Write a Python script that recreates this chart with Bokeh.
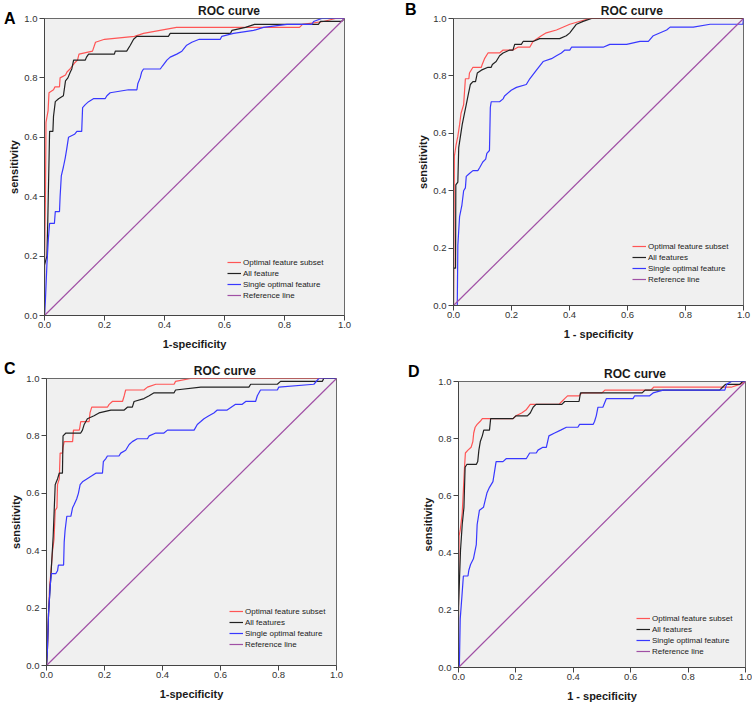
from bokeh.plotting import figure
from bokeh.models import Range1d, FixedTicker, Legend, LegendItem, LinearAxis
from bokeh.layouts import column, row
from bokeh.embed import file_html
from bokeh.resources import INLINE

TICKS = [0.0, 0.2, 0.4, 0.6, 0.8, 1.0]
TICK_LABELS = ["0.0", "0.2", "0.4", "0.6", "0.8", "1.0"]
PANEL_LETTERS = ["A", "B", "C", "D"]
PANEL_TITLE = "ROC curve"
X_LABELS = ["1-specificity", "1 - specificity", "1-specificity", "1 - specificity"]
Y_LABEL = "sensitivity"
LEGEND_A = ["Optimal feature subset", "All feature", "Single optimal feature", "Reference line"]
LEGEND_BCD = ["Optimal feature subset", "All features", "Single optimal feature", "Reference line"]
REF_X = [0.0, 1.0]
REF_Y = [0.0, 1.0]

# ---- Panel A ----
A_opt_x = [0, 0, 0.003, 0.005, 0.012, 0.015, 0.03, 0.035, 0.05, 0.052, 0.07, 0.075, 0.085, 0.1, 0.11, 0.115, 0.16, 0.17, 0.2, 0.3, 0.33, 0.44, 0.85, 0.86, 0.93, 0.97, 1.0]
A_opt_y = [0, 0.16, 0.39, 0.65, 0.69, 0.75, 0.76, 0.77, 0.77, 0.80, 0.81, 0.82, 0.83, 0.85, 0.86, 0.88, 0.89, 0.92, 0.93, 0.94, 0.95, 0.97, 0.97, 0.98, 0.99, 1.0, 1.0]
A_all_x = [0, 0, 0.008, 0.011, 0.017, 0.028, 0.03, 0.036, 0.047, 0.063, 0.07, 0.078, 0.086, 0.091, 0.097, 0.136, 0.14, 0.147, 0.233, 0.236, 0.274, 0.286, 0.297, 0.308, 0.413, 0.419, 0.62, 0.625, 0.67, 0.70, 0.913, 0.92, 0.99, 1.0]
A_all_y = [0, 0.17, 0.20, 0.32, 0.62, 0.62, 0.67, 0.72, 0.73, 0.74, 0.79, 0.80, 0.82, 0.83, 0.86, 0.86, 0.87, 0.88, 0.88, 0.89, 0.89, 0.91, 0.93, 0.94, 0.94, 0.95, 0.95, 0.96, 0.97, 0.98, 0.98, 0.99, 0.99, 1.0]
A_single_x = [0, 0.003, 0.008, 0.013, 0.017, 0.033, 0.036, 0.05, 0.052, 0.056, 0.063, 0.069, 0.074, 0.08, 0.10, 0.108, 0.124, 0.127, 0.136, 0.147, 0.163, 0.202, 0.208, 0.219, 0.28, 0.308, 0.311, 0.319, 0.324, 0.33, 0.386, 0.393, 0.408, 0.419, 0.441, 0.458, 0.474, 0.491, 0.516, 0.586, 0.591, 0.63, 0.697, 0.73, 0.808, 0.891, 0.897, 0.924, 1.0]
A_single_y = [0, 0.05, 0.17, 0.26, 0.31, 0.31, 0.35, 0.35, 0.40, 0.47, 0.50, 0.53, 0.56, 0.60, 0.61, 0.62, 0.62, 0.70, 0.71, 0.72, 0.73, 0.73, 0.74, 0.75, 0.76, 0.76, 0.78, 0.80, 0.82, 0.83, 0.83, 0.84, 0.86, 0.87, 0.88, 0.89, 0.91, 0.92, 0.93, 0.93, 0.94, 0.95, 0.96, 0.97, 0.98, 0.98, 0.99, 1.0, 1.0]

# ---- Panel B ----
B_opt_x = [0, 0.001, 0.003, 0.009, 0.015, 0.021, 0.026, 0.035, 0.041, 0.053, 0.055, 0.067, 0.096, 0.099, 0.107, 0.119, 0.159, 0.171, 0.205, 0.222, 0.263, 0.274, 0.303, 0.32, 0.355, 0.401, 0.47, 1.0]
B_opt_y = [0, 0.13, 0.52, 0.56, 0.59, 0.63, 0.67, 0.70, 0.79, 0.79, 0.81, 0.83, 0.83, 0.84, 0.86, 0.88, 0.88, 0.89, 0.89, 0.90, 0.90, 0.92, 0.94, 0.95, 0.96, 0.98, 1.0, 1.0]
B_all_x = [0, 0, 0.007, 0.008, 0.015, 0.018, 0.03, 0.038, 0.044, 0.05, 0.058, 0.067, 0.076, 0.082, 0.096, 0.119, 0.13, 0.134, 0.147, 0.159, 0.171, 0.194, 0.205, 0.211, 0.234, 0.24, 0.274, 0.297, 0.366, 0.389, 0.401, 0.424, 0.447, 0.476, 1.0]
B_all_y = [0, 0.13, 0.13, 0.42, 0.43, 0.55, 0.63, 0.67, 0.70, 0.73, 0.77, 0.78, 0.78, 0.81, 0.82, 0.83, 0.83, 0.84, 0.85, 0.87, 0.88, 0.89, 0.89, 0.91, 0.91, 0.92, 0.92, 0.93, 0.93, 0.94, 0.95, 0.98, 0.99, 1.0, 1.0]
B_single_x = [0, 0.013, 0.015, 0.021, 0.029, 0.035, 0.041, 0.044, 0.055, 0.067, 0.084, 0.09, 0.101, 0.111, 0.115, 0.124, 0.127, 0.13, 0.159, 0.171, 0.176, 0.199, 0.217, 0.251, 0.263, 0.286, 0.309, 0.338, 0.355, 0.372, 0.384, 0.401, 0.407, 0.516, 0.539, 0.597, 0.643, 0.672, 0.689, 0.735, 0.747, 0.827, 0.885, 0.998, 1.0]
B_single_y = [0, 0.0, 0.21, 0.31, 0.35, 0.40, 0.41, 0.45, 0.46, 0.47, 0.47, 0.48, 0.50, 0.51, 0.53, 0.54, 0.69, 0.71, 0.71, 0.72, 0.73, 0.75, 0.76, 0.77, 0.79, 0.82, 0.85, 0.86, 0.87, 0.88, 0.89, 0.89, 0.90, 0.90, 0.91, 0.91, 0.92, 0.92, 0.94, 0.96, 0.97, 0.97, 0.98, 0.98, 1.0]

# ---- Panel C ----
C_opt_x = [0, 0.003, 0.007, 0.011, 0.015, 0.021, 0.026, 0.03, 0.036, 0.038, 0.044, 0.047, 0.055, 0.057, 0.061, 0.09, 0.093, 0.113, 0.115, 0.118, 0.147, 0.15, 0.156, 0.21, 0.216, 0.227, 0.262, 0.268, 0.273, 0.336, 0.348, 0.377, 0.44, 0.445, 0.497, 1.0]
C_opt_y = [0, 0.05, 0.18, 0.28, 0.32, 0.40, 0.44, 0.54, 0.55, 0.63, 0.65, 0.74, 0.74, 0.76, 0.78, 0.78, 0.82, 0.82, 0.83, 0.85, 0.85, 0.88, 0.90, 0.90, 0.91, 0.92, 0.92, 0.94, 0.96, 0.96, 0.97, 0.98, 0.98, 0.99, 1.0, 1.0]
C_all_x = [0, 0.003, 0.007, 0.013, 0.015, 0.023, 0.03, 0.034, 0.038, 0.044, 0.055, 0.057, 0.067, 0.118, 0.124, 0.13, 0.141, 0.164, 0.181, 0.222, 0.268, 0.279, 0.296, 0.302, 0.336, 0.354, 0.371, 0.44, 0.445, 0.532, 0.698, 0.704, 0.796, 0.807, 0.951, 0.956, 1.0]
C_all_y = [0, 0.05, 0.18, 0.28, 0.31, 0.45, 0.63, 0.64, 0.65, 0.67, 0.67, 0.80, 0.81, 0.81, 0.82, 0.84, 0.86, 0.87, 0.88, 0.89, 0.89, 0.90, 0.90, 0.92, 0.93, 0.94, 0.95, 0.95, 0.96, 0.97, 0.97, 0.98, 0.98, 0.99, 0.99, 1.0, 1.0]
C_single_x = [0, 0.003, 0.007, 0.013, 0.017, 0.032, 0.038, 0.041, 0.059, 0.061, 0.064, 0.07, 0.084, 0.09, 0.095, 0.104, 0.11, 0.116, 0.124, 0.139, 0.155, 0.17, 0.193, 0.196, 0.204, 0.21, 0.25, 0.256, 0.273, 0.285, 0.296, 0.313, 0.348, 0.354, 0.377, 0.405, 0.417, 0.509, 0.52, 0.532, 0.543, 0.56, 0.577, 0.589, 0.623, 0.652, 0.675, 0.687, 0.721, 0.727, 0.738, 0.796, 0.801, 0.922, 0.939, 1.0]
C_single_y = [0, 0.05, 0.18, 0.28, 0.32, 0.32, 0.33, 0.35, 0.35, 0.43, 0.47, 0.52, 0.52, 0.55, 0.56, 0.58, 0.60, 0.63, 0.64, 0.65, 0.66, 0.67, 0.67, 0.71, 0.72, 0.73, 0.73, 0.74, 0.75, 0.77, 0.78, 0.79, 0.79, 0.80, 0.81, 0.81, 0.82, 0.82, 0.84, 0.85, 0.86, 0.87, 0.88, 0.89, 0.89, 0.91, 0.91, 0.92, 0.92, 0.94, 0.96, 0.96, 0.97, 0.98, 1.0, 1.0]

# ---- Panel D ----
D_opt_x = [0, 0, 0.002, 0.006, 0.013, 0.017, 0.021, 0.024, 0.033, 0.044, 0.05, 0.053, 0.058, 0.065, 0.075, 0.083, 0.19, 0.20, 0.22, 0.235, 0.25, 0.35, 0.36, 0.37, 0.38, 0.42, 0.43, 0.50, 0.51, 0.67, 0.68, 0.95, 0.98, 1.0]
D_opt_y = [0, 0.21, 0.46, 0.48, 0.54, 0.62, 0.70, 0.75, 0.76, 0.77, 0.79, 0.82, 0.84, 0.85, 0.86, 0.87, 0.87, 0.88, 0.89, 0.90, 0.92, 0.92, 0.93, 0.94, 0.95, 0.95, 0.96, 0.96, 0.97, 0.97, 0.98, 0.98, 0.99, 1.0]
D_all_x = [0, 0, 0.007, 0.013, 0.019, 0.023, 0.029, 0.062, 0.067, 0.071, 0.076, 0.083, 0.088, 0.108, 0.112, 0.19, 0.20, 0.24, 0.25, 0.26, 0.27, 0.36, 0.37, 0.42, 0.425, 0.64, 0.65, 0.91, 0.92, 0.93, 0.98, 0.99, 1.0]
D_all_y = [0, 0.21, 0.41, 0.50, 0.56, 0.70, 0.71, 0.71, 0.72, 0.76, 0.79, 0.81, 0.83, 0.83, 0.87, 0.87, 0.88, 0.88, 0.89, 0.91, 0.92, 0.92, 0.93, 0.93, 0.96, 0.96, 0.97, 0.97, 0.98, 0.99, 0.99, 1.0, 1.0]
D_single_x = [0, 0.003, 0.006, 0.012, 0.017, 0.033, 0.036, 0.042, 0.052, 0.062, 0.065, 0.073, 0.087, 0.099, 0.108, 0.12, 0.131, 0.155, 0.166, 0.236, 0.248, 0.271, 0.277, 0.294, 0.306, 0.315, 0.335, 0.356, 0.376, 0.416, 0.422, 0.469, 0.474, 0.48, 0.486, 0.503, 0.515, 0.608, 0.614, 0.666, 0.678, 0.713, 0.928, 0.934, 0.951, 1.0]
D_single_y = [0, 0.0, 0.17, 0.25, 0.32, 0.32, 0.34, 0.36, 0.38, 0.43, 0.50, 0.55, 0.56, 0.61, 0.63, 0.65, 0.72, 0.72, 0.73, 0.73, 0.75, 0.75, 0.76, 0.77, 0.77, 0.81, 0.82, 0.83, 0.84, 0.84, 0.85, 0.85, 0.86, 0.88, 0.91, 0.91, 0.94, 0.94, 0.95, 0.95, 0.96, 0.97, 0.97, 0.99, 1.0, 1.0]

FONT = "Liberation Sans"
RED = "#ff5555"
BLACK = "#222222"
BLUE = "#3838ff"
PURPLE = "#a050a5"
TITLE_POS = 0.615


def make_panel(letter, letter_lines, letter_standoff, xlabel, curves, labels,
               w, h, left, right, top, bottom, leg_x, leg_y):
    p = figure(width=w, height=h, output_backend="svg", toolbar_location=None,
               x_range=Range1d(0, 1), y_range=Range1d(0, 1),
               min_border_left=left, min_border_right=right,
               min_border_top=top, min_border_bottom=bottom)
    p.background_fill_color = "#f0f0f0"
    p.border_fill_color = "white"
    p.outline_line_color = "#6a6a6a"
    p.outline_line_width = 1
    p.grid.visible = False
    for ax in (p.xaxis[0], p.yaxis[0]):
        ax.ticker = FixedTicker(ticks=TICKS)
        ax.major_label_overrides = {t: s for t, s in zip(TICKS, TICK_LABELS)}
        ax.minor_tick_line_color = None
        ax.major_tick_in = 0
        ax.major_tick_out = 5
        ax.major_tick_line_color = "#444444"
        ax.axis_line_color = "#444444"
        ax.major_label_text_font = FONT
        ax.major_label_text_font_size = "9.5px"
        ax.major_label_text_color = "#333333"
        ax.axis_label_text_font = FONT
        ax.axis_label_text_font_size = "11px"
        ax.axis_label_text_font_style = "bold"
        ax.axis_label_text_color = "#1a1a1a"
    p.xaxis.axis_label = xlabel
    p.yaxis.axis_label = Y_LABEL
    p.xaxis.major_label_standoff = 1
    p.yaxis.major_label_standoff = 2
    p.xaxis.axis_label_standoff = 7
    p.yaxis.axis_label_standoff = 1

    # "ROC curve" heading as the tick label of a bare top axis
    top_ax = LinearAxis(ticker=FixedTicker(ticks=[TITLE_POS]),
                        major_label_overrides={TITLE_POS: PANEL_TITLE})
    top_ax.axis_line_color = None
    top_ax.major_tick_line_color = None
    top_ax.minor_tick_line_color = None
    top_ax.major_tick_out = 0
    top_ax.major_tick_in = 0
    top_ax.major_label_standoff = 1
    top_ax.major_label_text_font = FONT
    top_ax.major_label_text_font_size = "12px"
    top_ax.major_label_text_font_style = "bold"
    top_ax.major_label_text_color = "#1a1a1a"
    p.add_layout(top_ax, "above")

    # Panel letter as the tick label of a bare outer left axis
    letter_text = letter + ("\n " if letter_lines == 2 else "")
    let_ax = LinearAxis(ticker=FixedTicker(ticks=[1.0]),
                        major_label_overrides={1.0: letter_text})
    let_ax.axis_line_color = None
    let_ax.major_tick_line_color = None
    let_ax.minor_tick_line_color = None
    let_ax.major_tick_out = 0
    let_ax.major_tick_in = 0
    let_ax.major_label_standoff = letter_standoff
    let_ax.major_label_text_font = FONT
    let_ax.major_label_text_font_size = "16px"
    let_ax.major_label_text_font_style = "bold"
    let_ax.major_label_text_color = "black"
    p.add_layout(let_ax, "left")

    colors = [RED, BLACK, BLUE, PURPLE]
    rends = []
    for (xs, ys), c in zip(curves, colors):
        rends.append(p.line(xs, ys, line_color=c, line_width=1.2))
    legend = Legend(items=[LegendItem(label=l, renderers=[r]) for l, r in zip(labels, rends)],
                    location=(leg_x, leg_y))
    legend.background_fill_alpha = 0
    legend.border_line_alpha = 0
    legend.padding = 0
    legend.margin = 0
    legend.spacing = 1
    legend.glyph_width = 14
    legend.glyph_height = 10
    legend.label_height = 10
    legend.label_standoff = 2
    legend.label_text_font = FONT
    legend.label_text_font_size = "8px"
    legend.label_text_color = "#222222"
    p.add_layout(legend)
    return p


pA = make_panel(PANEL_LETTERS[0], 1, -10, X_LABELS[0],
                [(A_opt_x, A_opt_y), (A_all_x, A_all_y), (A_single_x, A_single_y), (REF_X, REF_Y)],
                LEGEND_A, 376, 352, 44, 32, 16, 35, 183, 15)
pB = make_panel(PANEL_LETTERS[1], 2, -2, X_LABELS[1],
                [(B_opt_x, B_opt_y), (B_all_x, B_all_y), (B_single_x, B_single_y), (REF_X, REF_Y)],
                LEGEND_BCD, 376, 352, 77, 9, 17, 47, 179, 21)
pC = make_panel(PANEL_LETTERS[2], 2, -8, X_LABELS[2],
                [(C_opt_x, C_opt_y), (C_all_x, C_all_y), (C_single_x, C_single_y), (REF_X, REF_Y)],
                LEGEND_BCD, 376, 352, 46, 40, 26, 39, 183, 16)
pD = make_panel(PANEL_LETTERS[3], 2, 0, X_LABELS[3],
                [(D_opt_x, D_opt_y), (D_all_x, D_all_y), (D_single_x, D_single_y), (REF_X, REF_Y)],
                LEGEND_BCD, 376, 352, 82, 7, 29, 36, 178, 11)

layout = column(row(column(pA), column(pB)), row(column(pC), column(pD)))
open("out.html", "w").write(file_html(layout, INLINE))
